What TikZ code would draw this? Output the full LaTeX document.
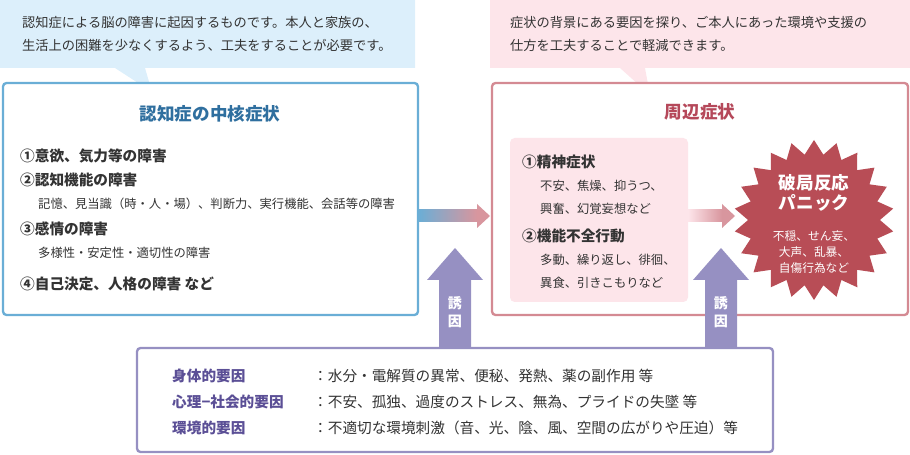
\documentclass[tikz,border=0pt]{standalone}
\usepackage{fontspec}
\setmainfont{Noto Sans CJK JP}
\usetikzlibrary{shapes.symbols}
\definecolor{cblue}{HTML}{6AAED6}
\definecolor{ctblue}{HTML}{2F6F9F}
\definecolor{clblue}{HTML}{DCEFFB}
\definecolor{cpink}{HTML}{D48A93}
\definecolor{ctpink}{HTML}{B5485A}
\definecolor{clpink}{HTML}{FDE5EA}
\definecolor{cred}{HTML}{B84D56}
\definecolor{cpurple}{HTML}{9690C2}
\definecolor{ctpurple}{HTML}{5B4F96}
\definecolor{ctext}{HTML}{333333}
\tikzset{
  item/.style={anchor=west, inner sep=0pt, font=\fontsize{12.5}{14}\selectfont\bfseries, text=ctext},
  sub/.style={anchor=west, inner sep=0pt, font=\fontsize{10.5}{12}\selectfont, text=ctext},
  note/.style={anchor=west, inner sep=0pt, font=\fontsize{11.3}{19}\selectfont, text=ctext, align=left},
  factor/.style={anchor=west, inner sep=0pt, font=\fontsize{12.5}{14}\selectfont\bfseries, text=ctpurple},
  ftext/.style={anchor=west, inner sep=0pt, font=\fontsize{12.5}{14}\selectfont, text=ctext},
}
\begin{document}
\begin{tikzpicture}[x=0.03cm, y=-0.03cm]
\useasboundingbox (0,0) rectangle (910,455);

% callouts
\fill[clblue] (0,0) -- (415,0) -- (415,68) -- (145,68) -- (152,92) -- (115,68) -- (0,68) -- cycle;
\fill[clpink] (490,0) -- (910,0) -- (910,68) -- (645,68) -- (650,95) -- (620,68) -- (490,68) -- cycle;
\node[note] (noteL) at (22,34) {認知症による脳の障害に起因するものです。本人と家族の、\\生活上の困難を少なくするよう、工夫をすることが必要です。};
\node[note] (noteR) at (510,34) {症状の背景にある要因を探り、ご本人にあった環境や支援の\\仕方を工夫することで軽減できます。};

% main boxes
\draw[cblue, line width=2pt, rounded corners=3pt, fill=white] (3,83) rectangle (418,315);
\draw[cpink, line width=2pt, rounded corners=3pt, fill=white] (492,83) rectangle (908,315);
\node[font=\fontsize{15}{17}\selectfont\bfseries, text=ctblue] (core) at (210,114) {認知症の中核症状};
\node[font=\fontsize{15}{17}\selectfont\bfseries, text=ctpink] (peri) at (700,112) {周辺症状};

\node[item] (c1) at (20,156) {①意欲、気力等の障害};
\node[item] (c2) at (20,180) {②認知機能の障害};
\node[sub] (c2s) at (38,204) {記憶、見当識（時・人・場）、判断力、実行機能、会話等の障害};
\node[item] (c3) at (20,229) {③感情の障害};
\node[sub] (c3s) at (38,253) {多様性・安定性・適切性の障害};
\node[item] (c4) at (20,284) {④自己決定、人格の障害 など};

% inner box
\fill[clpink, rounded corners=4pt] (510,138) rectangle (688,302);
\node[item] (p1) at (522,162) {①精神症状};
\node[sub] (p1a) at (540,186) {不安、焦燥、抑うつ、};
\node[sub] (p1b) at (540,209) {興奮、幻覚妄想など};
\node[item] (p2) at (522,236) {②機能不全行動};
\node[sub] (p2a) at (540,260) {多動、繰り返し、徘徊、};
\node[sub] (p2b) at (540,283) {異食、引きこもりなど};

% starburst
\node[starburst, starburst points=22, starburst point height=12pt, random starburst=0,
  fill=cred, minimum width=4.8cm, minimum height=4.8cm, inner sep=0pt] (burst) at (814,220) {};
\node[font=\fontsize{15}{17}\selectfont\bfseries, text=white, align=center] (panic) at (814,193) {破局反応\\パニック};
\node[font=\fontsize{10}{14}\selectfont, text=white, align=center] (panicsub) at (814,252) {不穏、せん妄、\\大声、乱暴、\\自傷行為など};

% gradient arrows
\shade[left color=cblue, right color=cpink!90] (418,210) rectangle (477,222);
\fill[cpink!90] (477,204) -- (490,216) -- (477,228) -- cycle;
\shade[left color=clpink, right color=cpink!90] (688,210) rectangle (722,222);
\fill[cpink!90] (722,204) -- (735,216) -- (722,228) -- cycle;

% bottom box
\draw[cpurple, line width=2pt, rounded corners=3pt, fill=white] (137,348) rectangle (773,452);
\fill[cpurple] (439,347) -- (439,280) -- (427,280) -- (455,248) -- (483,280) -- (471,280) -- (471,347) -- cycle;
\fill[cpurple] (705,347) -- (705,280) -- (693,280) -- (721,248) -- (749,280) -- (737,280) -- (737,347) -- cycle;
\node[font=\fontsize{12}{15}\selectfont\bfseries, text=white, align=center] (cause1) at (455,312) {誘\\因};
\node[font=\fontsize{12}{15}\selectfont\bfseries, text=white, align=center] (cause2) at (721,312) {誘\\因};

\node[factor] (f1) at (172,376) {身体的要因};
\node[factor] (f2) at (172,402) {心理−社会的要因};
\node[factor] (f3) at (172,428) {環境的要因};
\node[ftext] (f1t) at (313,376) {：水分・電解質の異常、便秘、発熱、薬の副作用 等};
\node[ftext] (f2t) at (313,402) {：不安、孤独、過度のストレス、無為、プライドの失墜 等};
\node[ftext] (f3t) at (313,428) {：不適切な環境刺激（音、光、陰、風、空間の広がりや圧迫）等};
\end{tikzpicture}
\end{document}
